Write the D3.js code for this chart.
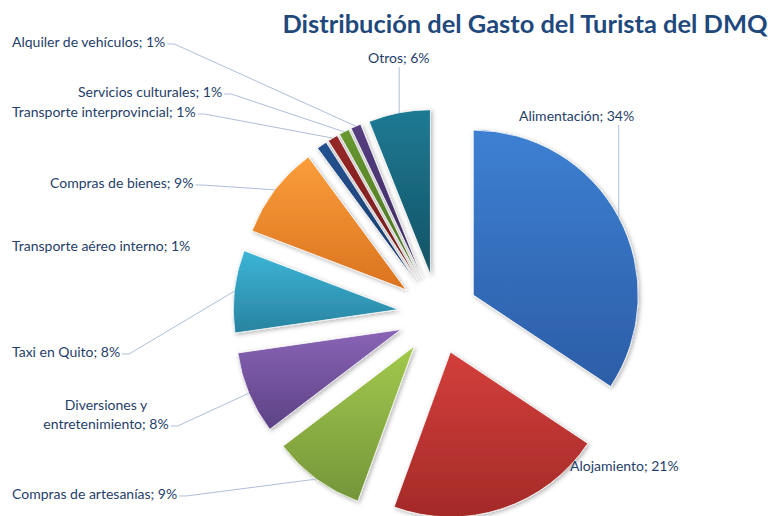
<!DOCTYPE html>
<html>
<head>
<meta charset="utf-8">
<script src="https://cdn.jsdelivr.net/npm/d3@7"></script>
<style>
  body { margin: 0; background: #fff; }
  svg { display: block; font-family: Lato, "Open Sans", sans-serif; }
</style>
</head>
<body>
<svg id="chart" width="773" height="516"></svg>
<script>
// data, clockwise from 12 o'clock
const categories = ['Alimentación', 'Alojamiento', 'Compras de artesanías', 'Diversiones y entretenimiento',
  'Taxi en Quito', 'Compras de bienes', 'Transporte aéreo interno', 'Transporte interprovincial',
  'Servicios culturales', 'Alquiler de vehículos', 'Otros']
const values = [34, 21, 9, 8, 8, 9, 1, 1, 1, 1, 6]
const topColors = ['#3d80d2', '#d33f3c', '#a3c94d', '#8a64b6', '#3cb5d7', '#fb9d3a',
  '#245290', '#962727', '#689830', '#553d80', '#1f7a94']
const bottomColors = ['#2c5da7', '#a42a28', '#74953a', '#5c4285', '#2983a0', '#da7320',
  '#1a3c6b', '#6e1a1a', '#4b6f23', '#3c2a5d', '#135264']

// label layout (x, baseline y, text-anchor, leader style)
const labelLayout = [
  { x: 519, y: 121, anchor: 'start', leader: 'v' },
  { x: 570, y: 471, anchor: 'start', leader: null },
  { x: 12, y: 499, anchor: 'start', leader: 'h' },
  { x: 106, y: 429, anchor: 'middle', leader: 'h', lines: ['Diversiones y', 'entretenimiento; 8%'] },
  { x: 12, y: 357, anchor: 'start', leader: 'h' },
  { x: 50, y: 188, anchor: 'start', leader: 'h' },
  { x: 12, y: 251, anchor: 'start', leader: null },
  { x: 12, y: 117, anchor: 'start', leader: 'h' },
  { x: 78, y: 97, anchor: 'start', leader: 'h' },
  { x: 12, y: 47, anchor: 'start', leader: 'h' },
  { x: 368, y: 63, anchor: 'start', leader: 'v' }
]

const cx = 438, cy = 314, radius = 165, explode = 40
const textColor = '#1f3e6a'

const svg = d3.select('#chart')
const defs = svg.append('defs')

const shadow = defs.append('filter').attr('id', 'shadow')
  .attr('x', '-20%').attr('y', '-20%').attr('width', '140%').attr('height', '140%')
shadow.append('feDropShadow').attr('dx', 1.5).attr('dy', 1.5).attr('stdDeviation', 2)
  .attr('flood-color', '#000').attr('flood-opacity', 0.3)

values.forEach((v, i) => {
  let g = defs.append('linearGradient').attr('id', 'grad' + i)
    .attr('x1', 0).attr('y1', 0).attr('x2', 0).attr('y2', 1)
  g.append('stop').attr('offset', '0%').attr('stop-color', topColors[i])
  g.append('stop').attr('offset', '100%').attr('stop-color', bottomColors[i])
})

// title
svg.append('text')
  .attr('x', 525).attr('y', 33)
  .attr('text-anchor', 'middle')
  .attr('font-size', 25).attr('font-weight', 'bold')
  .attr('fill', '#1f497d')
  .attr('textLength', 485).attr('lengthAdjust', 'spacingAndGlyphs')
  .text('Distribución del Gasto del Turista del DMQ')

const pie = d3.pie().sort(null).value(d => d)
const arcs = pie(values)
const arc = d3.arc().innerRadius(0).outerRadius(radius)

function offset(d, r) {
  let mid = (d.startAngle + d.endAngle) / 2
  return [cx + Math.sin(mid) * r, cy - Math.cos(mid) * r]
}

const slices = svg.append('g').attr('class', 'slices')
slices.selectAll('path')
  .data(arcs)
  .join('path')
  .attr('transform', d => `translate(${offset(d, explode)})`)
  .attr('d', arc)
  .attr('fill', (d, i) => `url(#grad${i})`)
  .attr('stroke', '#fff')
  .attr('stroke-width', 0.8)
  .attr('filter', 'url(#shadow)')

// labels + leader lines
const labels = svg.append('g').attr('class', 'labels')
const leaders = svg.append('g').attr('class', 'leaders')
arcs.forEach((d, i) => {
  let L = labelLayout[i]
  let t = labels.append('text')
    .attr('x', L.x).attr('y', L.y)
    .attr('text-anchor', L.anchor)
    .attr('font-size', 14)
    .attr('fill', textColor)
  let lines = L.lines || [categories[i] + '; ' + values[i] + '%']
  lines.forEach((s, k) => {
    t.append('tspan').attr('x', L.x).attr('dy', k === 0 ? -(lines.length - 1) * 19 : 19).text(s)
  })
  if (!L.leader) return
  let box = t.node().getBBox()
  let target = offset(d, explode + radius)
  let pts
  if (L.leader === 'v') {
    pts = [[target[0], box.y + box.height + 1], target]
  } else {
    let y0 = L.y - 3
    pts = [[box.x + box.width + 2, y0], [box.x + box.width + 9, y0], target]
  }
  leaders.append('path')
    .attr('d', d3.line()(pts))
    .attr('fill', 'none')
    .attr('stroke', '#aebfd8')
    .attr('stroke-width', 1)
})
</script>
</body>
</html>
